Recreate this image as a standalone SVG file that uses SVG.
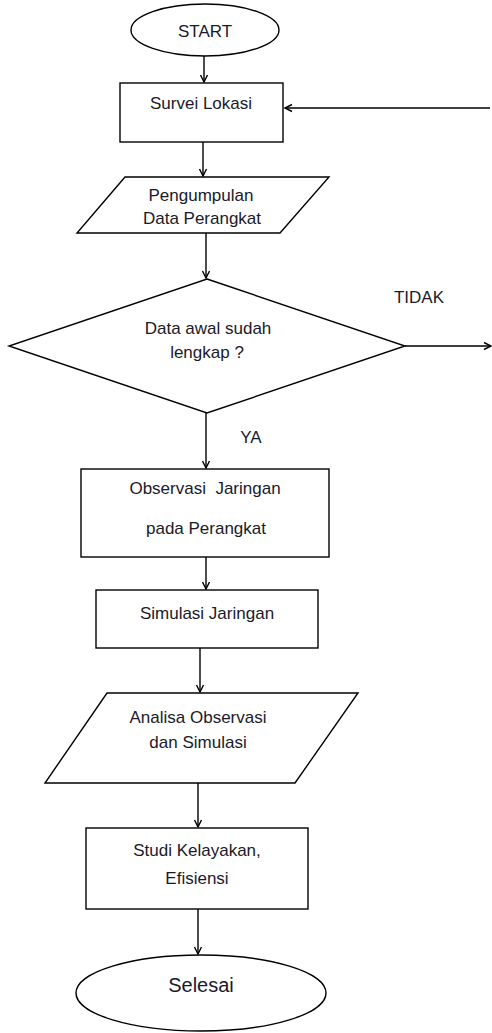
<svg xmlns="http://www.w3.org/2000/svg" width="492" height="1033" viewBox="0 0 492 1033">
<style>
.s{fill:#fff;stroke:#000;stroke-width:1.4}
.c{fill:none;stroke:#000;stroke-width:1.4}
text{font-family:"Liberation Sans",Arial,sans-serif;font-size:17px;fill:#1a1a2a;text-anchor:middle;dominant-baseline:central}
</style>
<defs>
<marker id="a" markerWidth="10" markerHeight="10" refX="8" refY="5" orient="auto" markerUnits="userSpaceOnUse">
<path d="M1,1.5 L8,5 L1,8.5" fill="none" stroke="#000" stroke-width="1.4"/>
</marker>
</defs>
<g id="connectors">
<line class="c" x1="204" y1="56" x2="204" y2="82" marker-end="url(#a)"/>
<line class="c" x1="203" y1="142" x2="203" y2="176" marker-end="url(#a)"/>
<line class="c" x1="206" y1="233" x2="206" y2="278" marker-end="url(#a)"/>
<line class="c" x1="405" y1="346" x2="491" y2="346" marker-end="url(#a)"/>
<line class="c" x1="490" y1="108" x2="285" y2="108" marker-end="url(#a)"/>
<line class="c" x1="206" y1="413" x2="206" y2="468" marker-end="url(#a)"/>
<line class="c" x1="206" y1="557" x2="206" y2="589" marker-end="url(#a)"/>
<line class="c" x1="200" y1="648" x2="200" y2="692" marker-end="url(#a)"/>
<line class="c" x1="198" y1="783" x2="198" y2="827" marker-end="url(#a)"/>
<line class="c" x1="198" y1="909" x2="198" y2="954" marker-end="url(#a)"/>
<text x="419" y="297">TIDAK</text>
<text x="251" y="437">YA</text>
</g>
<g id="start"><ellipse class="s" cx="205" cy="30" rx="74" ry="26"/><text x="205" y="31">START</text></g>
<g id="survei"><rect class="s" x="120" y="83" width="163" height="59"/><text x="201" y="103">Survei Lokasi</text></g>
<g id="pengumpulan"><polygon class="s" points="125,177 329,177 280,233 77,233"/><text x="201" y="195">Pengumpulan</text><text x="202" y="218">Data Perangkat</text></g>
<g id="decision"><polygon class="s" points="207,279 405,346 207,413 9,346"/><text x="208" y="328">Data awal sudah</text><text x="207" y="352">lengkap ?</text></g>
<g id="observasi"><rect class="s" x="81" y="469" width="248" height="88"/><text x="205" y="488" xml:space="preserve">Observasi  Jaringan</text><text x="206" y="528">pada Perangkat</text></g>
<g id="simulasi"><rect class="s" x="96" y="590" width="222" height="58"/><text x="207" y="613">Simulasi Jaringan</text></g>
<g id="analisa"><polygon class="s" points="107,693 358,693 295,783 45,783"/><text x="198" y="717">Analisa Observasi</text><text x="198" y="742">dan Simulasi</text></g>
<g id="studi"><rect class="s" x="86" y="828" width="222" height="81"/><text x="197" y="850">Studi Kelayakan,</text><text x="197" y="878">Efisiensi</text></g>
<g id="selesai"><ellipse class="s" cx="201" cy="993" rx="125" ry="38"/><text x="201" y="985" style="font-size:20px">Selesai</text></g>
</svg>
